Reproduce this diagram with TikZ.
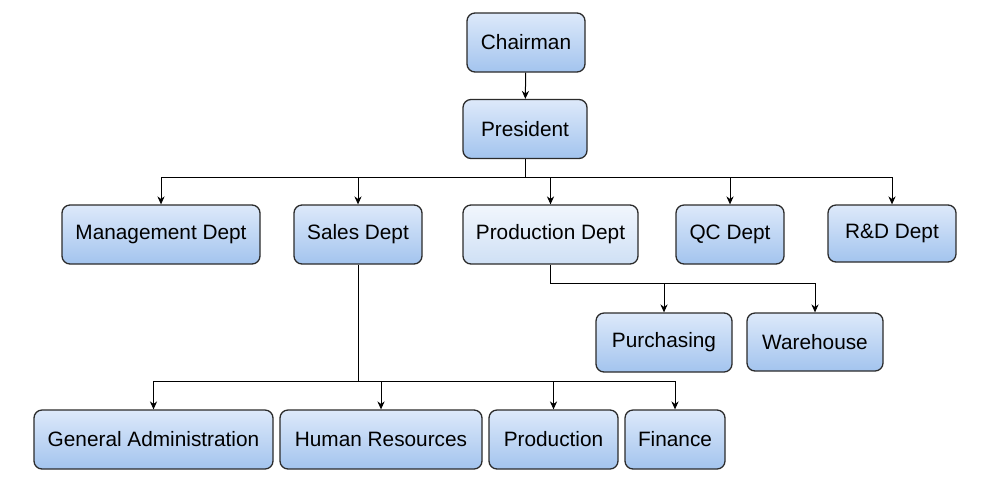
\documentclass[tikz,border=0pt]{standalone}
\usepackage{fontspec}
\setmainfont{Liberation Sans}
\usetikzlibrary{arrows.meta}
\definecolor{boxtop}{HTML}{DDE9FA}
\definecolor{boxbot}{HTML}{A3C4EE}
\definecolor{paletop}{HTML}{F1F6FD}
\definecolor{palebot}{HTML}{CFE0F5}
\definecolor{boxline}{HTML}{2B2B2B}
\tikzset{obox/.style={
    rectangle,
    draw=boxline,
    line width=0.65pt,
    rounded corners=4pt,
    align=center,
    top color=boxtop,
    bottom color=boxbot,
    font=\fontsize{10.4}{12}\selectfont,
    minimum height=29.5pt
  },
  pbox/.style={obox,top color=paletop,bottom color=palebot},
  link/.style={line width=0.5pt,black},
  arr/.style={link,-{Stealth[length=4pt,width=3.6pt]}},
}
\begin{document}
\begin{tikzpicture}[x=0.5pt,y=-0.5pt]
  \useasboundingbox (0,0) rectangle (1000,478);
  % top of the chart
  \node [obox,minimum width=59pt] (chair) at (526,42.5) {Chairman};
  \node [obox,minimum width=62pt] (pres) at (525,129) {President};
  % departments
  \node [obox,minimum width=99pt] (mgmt) at (161,234.5) {Management Dept};
  \node [obox,minimum width=64pt] (sales) at (358,234.5) {Sales Dept};
  \node [pbox,minimum width=87.5pt] (prod) at (550.5,234.5) {Production Dept};
  \node [obox,minimum width=54pt] (qc) at (730,234.5) {QC Dept};
  \node [obox,minimum width=64pt,minimum height=28.5pt] (rnd) at (892,233.5) {R\&D Dept};
  % under production dept
  \node [obox,minimum width=68pt] (purch) at (664,342.5) {Purchasing};
  \node [obox,minimum width=68pt,minimum height=29pt] (ware) at (815,342) {Warehouse};
  % under sales dept
  \node [obox,minimum width=119.5pt] (genad) at (153.5,439.5) {General Administration};
  \node [obox,minimum width=101pt] (hr) at (381,439.5) {Human Resources};
  \node [obox,minimum width=64.5pt] (prodn) at (553.5,439.5) {Production};
  \node [obox,minimum width=50pt] (fin) at (675,439.5) {Finance};

  \draw[arr] (chair) -- (pres);
  \path (pres.south) ++(0,18) coordinate (bus1);
  \draw[link] (pres.south) -- (bus1);
  \foreach \n in {mgmt,sales,prod,qc,rnd}
    \draw[arr] (bus1) -| (\n.north);
  \path (prod.south) ++(0,19) coordinate (bus2);
  \draw[link] (prod.south) -- (bus2);
  \foreach \n in {purch,ware}
    \draw[arr] (bus2) -| (\n.north);
  \path (sales.south) ++(0,117) coordinate (bus3);
  \draw[link] (sales.south) -- (bus3);
  \foreach \n in {genad,hr,prodn,fin}
    \draw[arr] (bus3) -| (\n.north);
\end{tikzpicture}
\end{document}
